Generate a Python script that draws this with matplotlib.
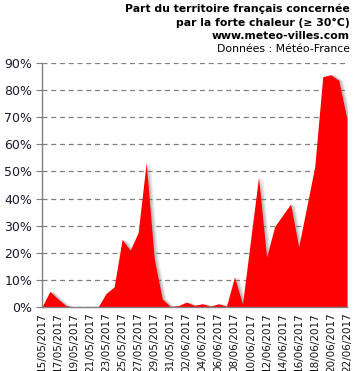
import pandas as pd
import matplotlib.pyplot as plt
import matplotlib.dates as mdates
from matplotlib.ticker import PercentFormatter

# Share of French territory hit by heat >= 30°C, 15/05/2017 -> 22/06/2017
start = "2017-05-15"
values = [0, 5.8, 3, 0.5, 0, 0, 0, 0, 5, 7.4,
          25, 21, 27.5, 53.4, 17.9, 3, 0.2, 0.5, 1.8, 0.6,
          1.2, 0.3, 1.2, 0.3, 11.1, 1.2, 24.6, 48, 18.5, 29.6,
          33.9, 38, 22.2, 37, 51.8, 85, 85.7, 83.6, 69.6]
dates = pd.date_range(start, periods=len(values), freq="D")

title_lines = ["Part du territoire français concernée",
               "par la forte chaleur (≥ 30°C)",
               "www.meteo-villes.com"]
source = "Données : Météo-France"

fig = plt.figure(figsize=(3.55, 3.71), dpi=100)
ax = fig.add_axes([0.118, 0.1725, 0.859, 0.6575])

# soft grey shadow to the right of the area
for shift, a in [(0.5, 0.12), (0.35, 0.18), (0.2, 0.22)]:
    ax.fill_between(dates + pd.Timedelta(days=shift), values, 0,
                    color="#707070", alpha=a, lw=0, zorder=2)
ax.fill_between(dates, values, 0, color="#ff0000", lw=0, zorder=3)

ax.set_xlim(dates[0], dates[-1])
ax.set_ylim(0, 90)
ax.set_yticks(range(0, 91, 10))
ax.yaxis.set_major_formatter(PercentFormatter(decimals=0))
ax.set_xticks(dates[::2])
ax.xaxis.set_major_formatter(mdates.DateFormatter("%d/%m/%Y"))
plt.setp(ax.get_xticklabels(), rotation=90, fontsize=7.5, color="#111111")
plt.setp(ax.get_yticklabels(), fontsize=9, color="#1a1a2e")
ax.tick_params(axis="x", length=0, pad=4)
ax.tick_params(axis="y", length=4, color="#808080", pad=3)

ax.grid(axis="y", color="#808080", linestyle=(0, (4, 3)), lw=0.9, zorder=1)
for s in ["top", "right"]:
    ax.spines[s].set_visible(False)
for s in ["left", "bottom"]:
    ax.spines[s].set_color("#808080")
    ax.spines[s].set_linewidth(1)
    ax.spines[s].set_zorder(4)

for i, line in enumerate(title_lines):
    fig.text(0.985, 1 - (9 + 13.5 * i) / 371, line, ha="right", va="center",
             fontsize=7.8, fontweight="bold", color="black")
fig.text(0.985, 1 - 49.5 / 371, source, ha="right", va="center",
         fontsize=7.8, color="black")

fig.savefig("out.png", dpi=100)
